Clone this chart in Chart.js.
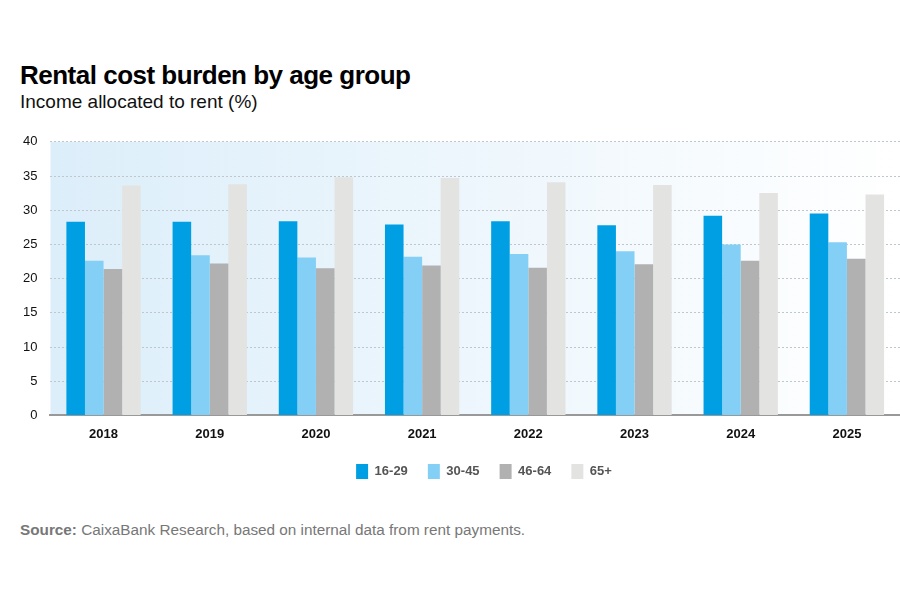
<!DOCTYPE html>
<html>
<head>
<meta charset="utf-8">
<script src="https://cdn.jsdelivr.net/npm/chart.js@4.4.1/dist/chart.umd.min.js"></script>
<style>
  body { margin: 0; background: #fff; font-family: "Liberation Sans", Arial, sans-serif; }
  #wrap { position: relative; width: 900px; height: 607px; }
  #title { position: absolute; left: 20px; top: 60px; font-size: 26px; font-weight: bold; color: #000; letter-spacing: -0.5px; }
  #subtitle { position: absolute; left: 20px; top: 91px; font-size: 19px; color: #111; }
  #chartBox { position: absolute; left: 0; top: 121px; width: 900px; height: 368px; }
  #source { position: absolute; left: 20px; top: 521px; font-size: 15.3px; color: #777; }
</style>
</head>
<body>
<div id="wrap">
  <div id="title">Rental cost burden by age group</div>
  <div id="subtitle">Income allocated to rent (%)</div>
  <div id="chartBox"><canvas id="myChart"></canvas></div>
  <div id="source"><b>Source:</b> CaixaBank Research, based on internal data from rent payments.</div>
</div>
<script>
// data
const years = ["2018", "2019", "2020", "2021", "2022", "2023", "2024", "2025"];
const age16to29 = [28.3, 28.3, 28.4, 27.9, 28.4, 27.8, 29.2, 29.5];
const age30to45 = [22.6, 23.4, 23.1, 23.2, 23.6, 24.0, 25.0, 25.3];
const age46to64 = [21.4, 22.2, 21.5, 21.9, 21.6, 22.1, 22.6, 22.9];
const age65plus = [33.6, 33.8, 34.8, 34.7, 34.1, 33.7, 32.5, 32.3];
const yTicks = [0, 5, 10, 15, 20, 25, 30, 35, 40];

// light blue gradient behind the plot
const bgPlugin = {
  id: 'bgPlugin',
  beforeDraw(chart) {
    const {ctx, chartArea} = chart;
    const g = ctx.createLinearGradient(chartArea.left, 0, chartArea.right, 0);
    g.addColorStop(0, '#dceefa');
    g.addColorStop(1, '#ffffff');
    ctx.save();
    ctx.fillStyle = g;
    ctx.fillRect(chartArea.left, chartArea.top, chartArea.right - chartArea.left, chartArea.bottom - chartArea.top);
    ctx.restore();
  },
  // legend sits a bit right of centre in the original
  afterLayout(chart) {
    chart.legend.left += 29;
    chart.legend.right += 29;
  }
};

const boldFont = { family: "Liberation Sans", size: 13, weight: 'bold' };

var ctx = document.getElementById('myChart').getContext('2d');
var chart = new Chart(ctx, {
    type: 'bar',
    data: {
        labels: years,
        datasets: [
            { label: "16-29", data: age16to29, backgroundColor: '#009fe3' },
            { label: "30-45", data: age30to45, backgroundColor: '#84cff5' },
            { label: "46-64", data: age46to64, backgroundColor: '#b1b1b1' },
            { label: "65+", data: age65plus, backgroundColor: '#e3e3e2' }
        ]
    },
    options: {
        responsive: true,
        maintainAspectRatio: false,
        animation: false,
        layout: { padding: { left: 10, right: 0, top: 0, bottom: 0 } },
        datasets: { bar: { barPercentage: 1, categoryPercentage: 0.7 } },
        plugins: {
            legend: {
                position: 'bottom',
                labels: {
                    boxWidth: 12, boxHeight: 15, padding: 20,
                    color: '#555',
                    font: boldFont
                }
            },
            tooltip: { enabled: false }
        },
        scales: {
            x: {
                grid: { display: false, drawTicks: false },
                border: { display: true, color: '#999', width: 2 },
                ticks: { color: '#111', padding: 11, font: boldFont },
                afterFit: scale => { scale.height -= 9; }
            },
            y: {
                min: 0, max: 40,
                afterBuildTicks: axis => { axis.ticks = yTicks.map(v => ({ value: v })); },
                grid: { color: '#bfc7cc', lineWidth: 1, drawTicks: false },
                border: { display: false, dash: [2, 2] },
                ticks: { color: '#111', padding: 13, font: { family: "Liberation Sans", size: 13 } }
            }
        }
    },
    plugins: [bgPlugin]
});
</script>
</body>
</html>
